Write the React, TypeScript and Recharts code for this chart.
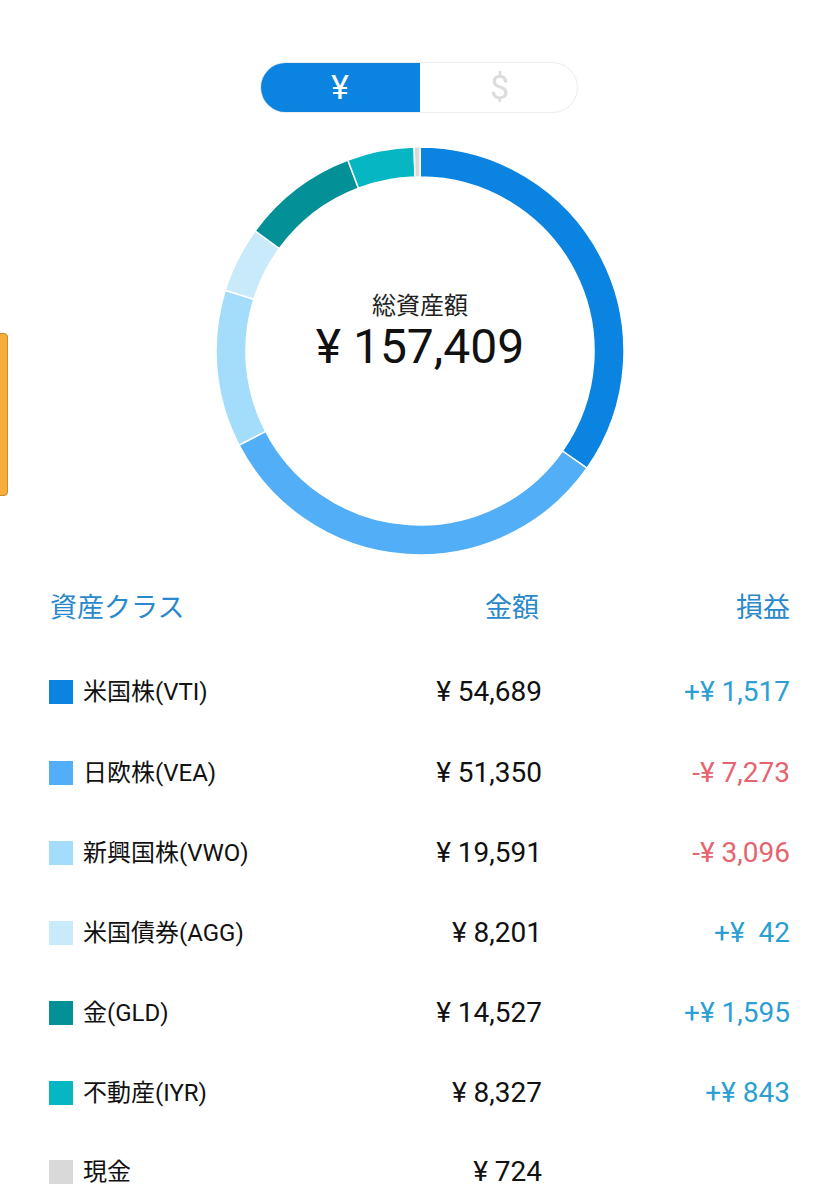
import React from 'react';
import { PieChart, Pie, Cell } from 'recharts';

const categories = ['米国株(VTI)', '日欧株(VEA)', '新興国株(VWO)', '米国債券(AGG)', '金(GLD)', '不動産(IYR)', '現金'];
const amounts = [54689, 51350, 19591, 8201, 14527, 8327, 724];
const profits: (number | null)[] = [1517, -7273, -3096, 42, 1595, 843, null];
const profitLabels = ['+¥ 1,517', '-¥ 7,273', '-¥ 3,096', '+¥  42', '+¥ 1,595', '+¥ 843', ''];
const amountLabels = ['¥ 54,689', '¥ 51,350', '¥ 19,591', '¥ 8,201', '¥ 14,527', '¥ 8,327', '¥ 724'];
const colors = ['#0b83e0', '#52aff7', '#a3ddfb', '#c9eafb', '#039096', '#06b6c3', '#d9d9d9'];
const totalLabel = '¥ 157,409';
const centerTitle = '総資産額';
const headers = ['資産クラス', '金額', '損益'];

const data = categories.map((name, i) => ({ name, value: amounts[i] }));

const FONT = "Roboto, 'Noto Sans CJK JP', sans-serif";
const ROW_Y = [692, 773, 853, 933, 1013, 1093, 1172];

export default function App() {
  return (
    <div style={{ position: 'absolute', left: 0, top: 0, width: 839, height: 1200, background: '#fff', fontFamily: FONT, overflow: 'hidden' }}>
      {/* orange side tab */}
      <div style={{ position: 'absolute', left: -4, top: 333, width: 10, height: 161, background: '#f6ad3c', border: '1px solid #c98a2a', borderRadius: 4 }} />

      {/* currency toggle */}
      <div style={{ position: 'absolute', left: 260, top: 62, width: 318, height: 51, borderRadius: 26, border: '1px solid #ececec', boxSizing: 'border-box', overflow: 'hidden', background: '#fff' }}>
        <div style={{ position: 'absolute', left: -1, top: -1, width: 160, height: 51, background: '#0b83e0', color: '#fff', fontSize: 34, lineHeight: '51px', textAlign: 'center' }}>¥</div>
        <div style={{ position: 'absolute', left: 159, top: -1, width: 159, height: 51, color: '#dcdcdc', fontSize: 34, lineHeight: '51px', textAlign: 'center' }}>$</div>
      </div>

      {/* donut */}
      <div style={{ position: 'absolute', left: 0, top: 0 }}>
        <PieChart width={839} height={570} margin={{ top: 0, right: 0, bottom: 0, left: 0 }}>
          <Pie
            data={data}
            dataKey="value"
            nameKey="name"
            cx={420}
            cy={351}
            innerRadius={174}
            outerRadius={204}
            startAngle={90}
            endAngle={-270}
            stroke="#ffffff"
            strokeWidth={1.5}
            isAnimationActive={false}
          >
            {data.map((d, i) => (
              <Cell key={d.name} fill={colors[i]} />
            ))}
          </Pie>
        </PieChart>
      </div>

      {/* center text */}
      <div style={{ position: 'absolute', left: 220, width: 400, top: 290, textAlign: 'center', fontSize: 24, lineHeight: '32px', color: '#222' }}>{centerTitle}</div>
      <div style={{ position: 'absolute', left: 220, width: 400, top: 319, textAlign: 'center', fontSize: 48, lineHeight: '56px', color: '#111' }}>{totalLabel}</div>

      {/* headers */}
      <div style={{ position: 'absolute', left: 50, top: 590, fontSize: 27, lineHeight: '36px', color: '#2a88cc' }}>{headers[0]}</div>
      <div style={{ position: 'absolute', right: 839 - 539, top: 590, fontSize: 27, lineHeight: '36px', color: '#2a88cc' }}>{headers[1]}</div>
      <div style={{ position: 'absolute', right: 839 - 790, top: 590, fontSize: 27, lineHeight: '36px', color: '#2a88cc' }}>{headers[2]}</div>

      {/* rows */}
      {categories.map((name, i) => {
        const y = ROW_Y[i];
        const p = profits[i];
        const pColor = p !== null && p < 0 ? '#e5646e' : '#2b9fd4';
        return (
          <React.Fragment key={name}>
            <div style={{ position: 'absolute', left: 49, top: y - 12, width: 24, height: 24, background: colors[i] }} />
            <div style={{ position: 'absolute', left: 83, top: y - 18, fontSize: 24, lineHeight: '36px', color: '#111', whiteSpace: 'pre' }}>{name}</div>
            <div style={{ position: 'absolute', right: 839 - 542, top: y - 18, fontSize: 28, lineHeight: '36px', color: '#111', whiteSpace: 'pre' }}>{amountLabels[i]}</div>
            <div style={{ position: 'absolute', right: 839 - 790, top: y - 18, fontSize: 28, lineHeight: '36px', color: pColor, whiteSpace: 'pre' }}>{profitLabels[i]}</div>
          </React.Fragment>
        );
      })}
    </div>
  );
}
